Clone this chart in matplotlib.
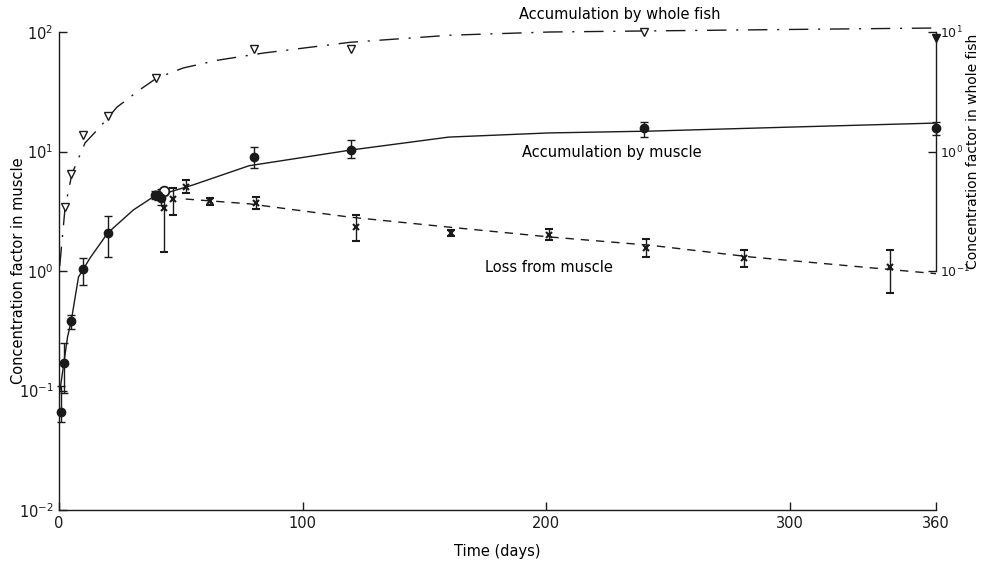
import matplotlib
matplotlib.use('Agg')
import matplotlib.pyplot as plt
import numpy as np

plt.rcParams['font.family'] = 'DejaVu Sans'
plt.rcParams['mathtext.fontset'] = 'dejavusans'

# accumulation by muscle (filled circles), concentration factor in muscle
musc_day = [1, 2, 5, 10, 20, 39.4, 40.6, 42, 80, 120, 240, 360]
musc_val = [0.066, 0.17, 0.38, 1.04, 2.08, 4.3, 4.3, 4.1, 9.0, 10.3, 15.7, 15.7]
musc_lo = [0.055, 0.095, 0.33, 0.76, 1.31, 4.0, 3.9, 3.6, 7.3, 8.8, 13.2, 13.8]
musc_hi = [0.11, 0.25, 0.43, 1.29, 2.89, 4.7, 4.7, 4.9, 11.0, 12.5, 17.7, 17.5]

# loss from muscle (crosses)
loss_day = [43, 47, 52, 62, 81, 122, 161, 201, 241, 281, 341]
loss_val = [3.37, 4.0, 5.05, 3.86, 3.7, 2.33, 2.08, 2.0, 1.56, 1.29, 1.08]
loss_lo = [1.44, 2.94, 4.5, 3.6, 3.3, 1.78, 1.98, 1.8, 1.3, 1.08, 0.65]
loss_hi = [4.9, 4.96, 5.8, 4.1, 4.2, 2.94, 2.2, 2.25, 1.85, 1.5, 1.5]

# open circle in the day-43 cluster
open_day = [43]
open_val = [4.7]

# whole fish (open triangles), concentration factor in whole fish
fish_day = [2.5, 5, 10, 20, 40, 80, 120, 240]
fish_val = [0.34, 0.65, 1.37, 1.98, 4.1, 7.2, 7.2, 10.0]
fish_end_day = [360]
fish_end_val = [8.9]

# fitted curves
musc_curve_day = [0.4, 2, 3.5, 5, 8, 12.8, 20, 30.5, 38.6, 55, 78, 120, 160, 201, 242, 300, 360]
musc_curve_val = [0.1, 0.17, 0.28, 0.38, 0.89, 1.29, 2.08, 3.24, 4.16, 5.25, 7.6, 10.3, 13.2, 14.3, 14.8, 16.0, 17.3]
loss_curve_day = [52, 78, 119, 160, 201, 243, 284, 360]
loss_curve_val = [4.0, 3.65, 2.83, 2.33, 1.93, 1.64, 1.31, 0.95]
fish_curve_day = [0.3, 2.5, 5.3, 10.7, 16.8, 23.8, 33, 40, 51, 65, 84, 119.5, 160.5, 201.5, 240, 300, 360]
fish_curve_val = [0.11, 0.34, 0.65, 1.18, 1.6, 2.35, 3.27, 4.1, 5.0, 5.8, 6.67, 8.2, 9.4, 10.0, 10.2, 10.5, 10.8]

fig = plt.figure(figsize=(9.82, 5.61), dpi=100)
ax = fig.add_axes([59 / 982, 1 - 510 / 561, 877 / 982, 478 / 561])
ax2 = ax.twinx()

ink = '#1a1a1a'

ax.plot(musc_curve_day, musc_curve_val, '-', color=ink, lw=1.0)
ax.plot(loss_curve_day, loss_curve_val, color=ink, lw=1.0, linestyle=(0, (6, 5)))
ax2.plot(fish_curve_day, fish_curve_val, color=ink, lw=1.0,
         linestyle=(0, (14, 7, 1.5, 7)), clip_on=False)

m = np.array(musc_val)
ax.errorbar(musc_day, musc_val, yerr=[m - np.array(musc_lo), np.array(musc_hi) - m],
            fmt='o', color=ink, ms=6, elinewidth=1, capsize=3, clip_on=False)
l = np.array(loss_val)
ax.errorbar(loss_day, loss_val, yerr=[l - np.array(loss_lo), np.array(loss_hi) - l],
            fmt='x', color=ink, ms=5, mew=1.5, elinewidth=1, capsize=3)
ax.plot(open_day, open_val, 'o', mfc='white', mec=ink, ms=7, mew=1.3)
ax2.plot(fish_day, fish_val, 'v', mfc='white', mec=ink, ms=6, mew=1, clip_on=False)
ax2.plot(fish_end_day, fish_end_val, 'v', color=ink, ms=6, clip_on=False)

ax.set_yscale('log')
ax.set_ylim(1e-2, 1e2)
ax.set_xlim(0, 360)
ax.set_xticks([0, 100, 200, 300, 360])
ax.set_yticks([1e-2, 1e-1, 1e0, 1e1, 1e2])
ax.yaxis.set_minor_locator(matplotlib.ticker.NullLocator())

ax2.set_yscale('log')
ax2.set_ylim(1e-3, 1e1)
ax2.set_yticks([1e-1, 1e0, 1e1])
ax2.yaxis.set_minor_locator(matplotlib.ticker.NullLocator())

for a in (ax, ax2):
    a.spines['top'].set_visible(False)
    for s in a.spines.values():
        s.set_color(ink)
        s.set_linewidth(1.0)
    a.tick_params(direction='in', length=6, width=1, labelsize=10.5, colors=ink, pad=4)
ax2.tick_params(labelsize=9, pad=3)
ax.spines['right'].set_visible(False)
ax2.spines['left'].set_visible(False)
ax2.spines['bottom'].set_visible(False)
ax2.spines['right'].set_bounds(1e-1, 1e1)

ax.set_xlabel('Time (days)', fontsize=10.5, labelpad=10)
ax.set_ylabel('Concentration factor in muscle', fontsize=10.5)
ax2.set_ylabel('Concentration factor in whole fish', fontsize=10)
ax2.yaxis.set_label_coords(1.034, 0.75)
ax.yaxis.set_label_coords(-0.038, 0.5)

ax.text(189, 139, 'Accumulation by whole fish', fontsize=10.5, va='center', clip_on=False)
ax.text(190, 9.9, 'Accumulation by muscle', fontsize=10.5, va='center')
ax.text(175, 1.06, 'Loss from muscle', fontsize=10.5, va='center')

fig.savefig('out.png', dpi=100)
